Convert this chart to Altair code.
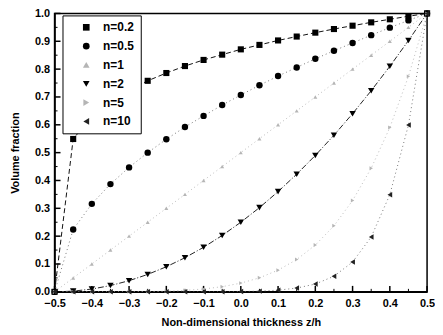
import altair as alt
import pandas as pd

z = [-0.50, -0.45, -0.40, -0.35, -0.30, -0.25, -0.20, -0.15, -0.10, -0.05,
     0.00, 0.05, 0.10, 0.15, 0.20, 0.25, 0.30, 0.35, 0.40, 0.45, 0.50]

series_names = ["n=0.2", "n=0.5", "n=1", "n=2", "n=5", "n=10"]

v_n02 = [0.0, 0.549, 0.631, 0.684, 0.725, 0.758, 0.786, 0.811, 0.833, 0.852,
         0.871, 0.887, 0.903, 0.917, 0.931, 0.944, 0.956, 0.968, 0.979, 0.990, 1.0]
v_n05 = [0.0, 0.224, 0.316, 0.387, 0.447, 0.500, 0.548, 0.592, 0.632, 0.671,
         0.707, 0.742, 0.775, 0.806, 0.837, 0.866, 0.894, 0.922, 0.949, 0.975, 1.0]
v_n1 = [0.0, 0.05, 0.10, 0.15, 0.20, 0.25, 0.30, 0.35, 0.40, 0.45,
        0.50, 0.55, 0.60, 0.65, 0.70, 0.75, 0.80, 0.85, 0.90, 0.95, 1.0]
v_n2 = [0.0, 0.0025, 0.010, 0.0225, 0.040, 0.0625, 0.090, 0.1225, 0.160, 0.2025,
        0.250, 0.3025, 0.360, 0.4225, 0.490, 0.5625, 0.640, 0.7225, 0.810, 0.9025, 1.0]
v_n5 = [0.0, 0.0, 0.00001, 0.00008, 0.0003, 0.001, 0.0024, 0.0053, 0.0102, 0.0185,
        0.0313, 0.0503, 0.0778, 0.116, 0.168, 0.237, 0.328, 0.444, 0.590, 0.774, 1.0]
v_n10 = [0.0, 0.0, 0.0, 0.0, 0.0, 0.0, 0.0, 0.00003, 0.0001, 0.0003,
         0.001, 0.0025, 0.006, 0.0135, 0.028, 0.056, 0.107, 0.197, 0.349, 0.599, 1.0]

marker_sizes = [38, 42, 16, 42, 16, 30]

x_major = [-0.5, -0.4, -0.3, -0.2, -0.1, 0.0, 0.1, 0.2, 0.3, 0.4, 0.5]
x_minor = [-0.45, -0.35, -0.25, -0.15, -0.05, 0.05, 0.15, 0.25, 0.35, 0.45]
y_major = [0.0, 0.1, 0.2, 0.3, 0.4, 0.5, 0.6, 0.7, 0.8, 0.9, 1.0]
y_minor = [0.05, 0.15, 0.25, 0.35, 0.45, 0.55, 0.65, 0.75, 0.85, 0.95]

all_values = [v_n02, v_n05, v_n1, v_n2, v_n5, v_n10]
rows = []
for name, vals, sz in zip(series_names, all_values, marker_sizes):
    for zz, vv in zip(z, vals):
        rows.append({"z": zz, "v": vv, "n": name, "ln": name, "sz": sz})
df = pd.DataFrame(rows)

W, H = 376, 281
FONT = "Liberation Sans"

xscale = alt.Scale(domain=[-0.5, 0.5], nice=False, zero=False)
yscale = alt.Scale(domain=[0, 1], nice=False)

xaxis = alt.Axis(values=x_major, format=".1f", title="Non-dimensional thickness z/h",
                 tickSize=0, labelPadding=6, titlePadding=8, grid=False,
                 labelOverlap=False, labelFlush=False)
yaxis = alt.Axis(values=y_major, format=".1f", title="Volume fraction",
                 tickSize=0, labelPadding=5, titlePadding=14, grid=False,
                 labelOverlap=False, labelFlush=False)

X = alt.X("z:Q", scale=xscale, axis=xaxis)
Y = alt.Y("v:Q", scale=yscale, axis=yaxis)

legend = alt.Legend(title=None, orient="none", legendX=8, legendY=2,
                    strokeColor="black", fillColor="white",
                    padding=6, rowPadding=7, symbolSize=45,
                    labelFont=FONT, labelFontSize=12, labelFontWeight="bold",
                    labelOffset=11, symbolOffset=12, symbolStrokeWidth=0)

lines = alt.Chart(df).mark_line(strokeWidth=1, clip=True).encode(
    x=X, y=Y,
    stroke=alt.Stroke("ln:N", sort=series_names, legend=None,
                      scale=alt.Scale(domain=series_names,
                                      range=["#111", "#777", "#bbb", "#222", "#bbb", "#777"])),
    strokeDash=alt.StrokeDash("ln:N", sort=series_names, legend=None,
                              scale=alt.Scale(domain=series_names,
                                              range=[[5, 3], [1, 3], [1, 3], [6, 2, 1, 2], [1, 3], [1, 3]])),
    detail="ln:N",
)

points = alt.Chart(df).mark_point(filled=True, opacity=1, clip=False).encode(
    x=X, y=Y,
    color=alt.Color("n:N", sort=series_names,
                    scale=alt.Scale(domain=series_names,
                                    range=["#000", "#000", "#b5b5b5", "#000", "#b5b5b5", "#222"]),
                    legend=legend),
    shape=alt.Shape("n:N", sort=series_names,
                    scale=alt.Scale(domain=series_names,
                                    range=["square", "circle", "triangle-up", "triangle-down",
                                           "triangle-right", "triangle-left"]),
                    legend=legend),
    size=alt.Size("sz:Q", scale=None, legend=None),
)

xtick_major = alt.Chart(pd.DataFrame({"t": x_major})).mark_rule(color="black", strokeWidth=1.5).encode(
    x=alt.X("t:Q", scale=xscale, axis=xaxis), y=alt.value(H), y2=alt.value(H - 6))
xtick_minor = alt.Chart(pd.DataFrame({"t": x_minor})).mark_rule(color="black", strokeWidth=1).encode(
    x=alt.X("t:Q", scale=xscale, axis=xaxis), y=alt.value(H), y2=alt.value(H - 3))
ytick_major = alt.Chart(pd.DataFrame({"t": y_major})).mark_rule(color="black", strokeWidth=1.5).encode(
    y=alt.Y("t:Q", scale=yscale, axis=yaxis), x=alt.value(0), x2=alt.value(6))
ytick_minor = alt.Chart(pd.DataFrame({"t": y_minor})).mark_rule(color="black", strokeWidth=1).encode(
    y=alt.Y("t:Q", scale=yscale, axis=yaxis), x=alt.value(0), x2=alt.value(3))

chart = alt.layer(lines, xtick_major, xtick_minor, ytick_major, ytick_minor, points).properties(
    width=W, height=H,
    autosize=alt.AutoSizeParams(type="none"),
    padding={"left": 47, "top": 4, "right": 8, "bottom": 34},
).resolve_scale(
    color="independent", shape="independent", stroke="independent", strokeDash="independent"
).configure_view(
    stroke="black", strokeWidth=1.5
).configure_axis(
    domainColor="black", domainWidth=1.5,
    labelFont=FONT, labelFontSize=11, labelFontWeight="bold", labelColor="black",
    titleFont=FONT, titleFontSize=11, titleFontWeight="bold", titleColor="black",
)

chart.save("out.html", embed_options={"renderer": "svg", "actions": False})
